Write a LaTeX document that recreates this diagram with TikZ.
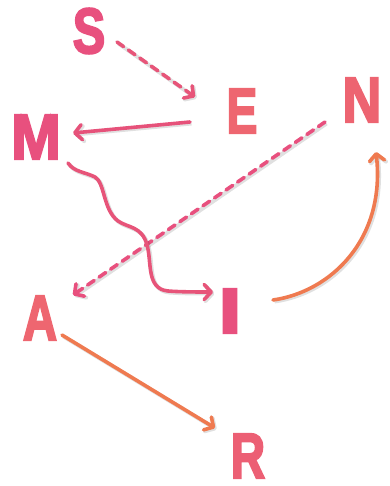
\documentclass[tikz,border=0pt]{standalone}
\usepackage{fontspec}
\usepackage{graphicx}
\usetikzlibrary{arrows.meta}
\newfontfamily\letterfont{Liberation Sans Bold}[FakeBold=3.5]
\definecolor{cpink}{HTML}{E8507E}
\definecolor{ccoral}{HTML}{EE6670}
\definecolor{corange}{HTML}{EF7A50}
\definecolor{carrow}{HTML}{E6527A}
\tikzset{
  letter/.style={inner sep=0pt, font=\letterfont\fontsize{64}{64}\selectfont},
  conn/.style={line width=3.6pt, line cap=round, line join=round,
    -{Straight Barb[length=7pt,width=15pt,line cap=round,line join=round]},
    preaction={draw=black, draw opacity=0.12, line width=4pt, transform canvas={shift={(1.5pt,-1.5pt)}}}},
  dashconn/.style={conn, dash pattern=on 8pt off 6pt},
}
\begin{document}
\begin{tikzpicture}[x=1pt,y=-1pt]
\useasboundingbox (0,0) rectangle (389,486);
\node[letter, text=cpink] (S) at (89,31) {\scalebox{0.76}[1]{S}};
\node[letter, text=ccoral] (E) at (242,111) {\scalebox{0.72}[1]{E}};
\node[letter, text=ccoral!90!cpink] (N) at (362,100) {\scalebox{0.84}[1]{N}};
\node[letter, text=cpink] (M) at (36,137) {\scalebox{0.93}[1]{M}};
\node[letter, text=ccoral] (A) at (40,318) {\scalebox{0.74}[1]{A}};
\node[letter, text=cpink] (I) at (230,311) {\scalebox{1.3}[1]{I}};
\node[letter, text=ccoral!70!cpink] (R) at (248,456) {\scalebox{0.74}[1]{R}};

\draw[dashconn, color=carrow!85!ccoral] ([shift={(28,11)}]S.center) -- ([shift={(-47,-14)}]E.center);
\draw[conn, color=carrow] ([shift={(-52,11)}]E.center) -- ([shift={(37,-4)}]M.center);
\draw[dashconn, color=cpink] ([shift={(-37,22)}]N.center) -- ([shift={(33,-23)}]A.center);
\draw[conn, color=carrow!90!ccoral] ([shift={(32,26)}]M.center)
  .. controls (74,172) and (85,172) .. (95,177)
  .. controls (105,183) and (103,210) .. (118,221)
  .. controls (128,228) and (142,226) .. (147,245)
  .. controls (152,262) and (146,289) .. (168,291)
  .. controls (180,292) and (200,292) .. ([shift={(-17,-19)}]I.center);
\draw[conn, color=corange] ([shift={(43,-11)}]I.center)
  .. controls (330,292) and (386,240) .. ([shift={(14,52)}]N.center);
\draw[conn, color=corange] ([shift={(22,17)}]A.center) -- ([shift={(-33,-28)}]R.center);
\end{tikzpicture}
\end{document}
